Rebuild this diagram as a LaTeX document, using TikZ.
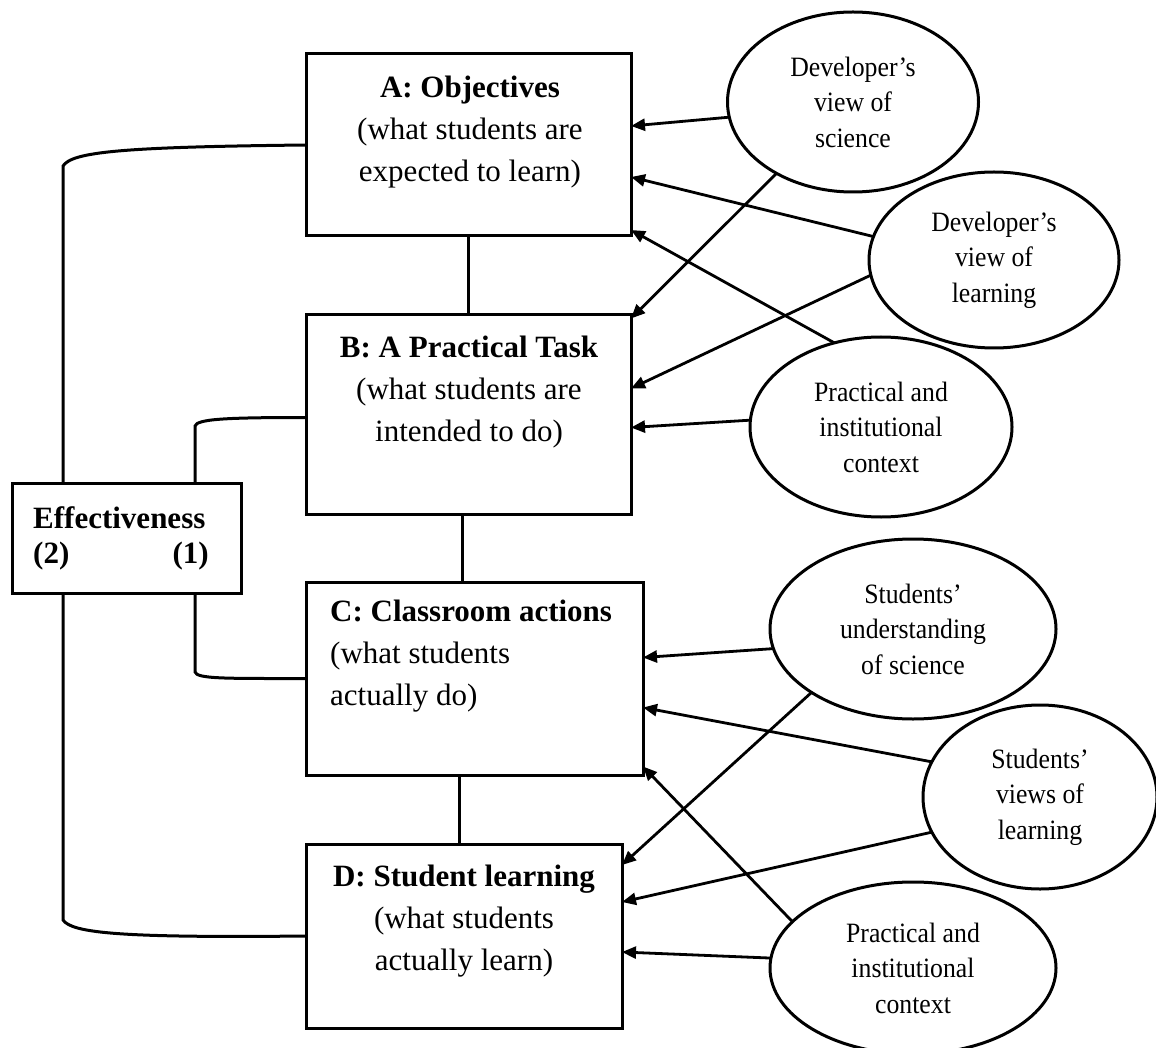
\documentclass[tikz,border=0pt]{standalone}
\usepackage{fontspec}
\setmainfont{Liberation Serif}
\newfontfamily\ovalfont{Liberation Serif}[FakeStretch=0.92]
\usetikzlibrary{arrows.meta,shapes.geometric}
\begin{document}
\begin{tikzpicture}[x=1pt,y=-1pt,
  box/.style={draw,line width=3pt,rectangle,inner sep=0pt,outer sep=0pt},
  oval/.style={draw,line width=3pt,ellipse,inner sep=0pt,outer sep=0pt,align=center,
    font=\ovalfont\fontsize{28}{35.5}\selectfont},
  boxtext/.style={align=center,inner sep=0pt,font=\fontsize{31}{42}\selectfont},
  link/.style={line width=3pt},
  influence/.style={line width=2.8pt,-{Triangle[length=14pt,width=12pt]}}]

\useasboundingbox (0,0) rectangle (1156,1048);
\fill[white] (0,0) rectangle (1156,1048);

% the four stages of the task
\node[box,minimum width=325pt,minimum height=182pt] (A) at (468.5,145) {};
\node[box,minimum width=325pt,minimum height=199pt] (B) at (468.5,414.5) {};
\node[box,minimum width=337pt,minimum height=193pt] (C) at (474.5,678.5) {};
\node[box,minimum width=316pt,minimum height=184pt] (D) at (464,936) {};
\node[box,minimum width=229pt,minimum height=110pt] (E) at (126.5,538) {};

\node[boxtext] (Atext) at (470,132) {\textbf{A: Objectives}\\(what students are\\expected to learn)};
\node[boxtext] (Btext) at (469,392) {\textbf{B: A Practical Task}\\(what students are\\intended to do)};
\node[boxtext,align=left,anchor=west] (Ctext) at (330,656) {\textbf{C: Classroom actions}\\(what students\\actually do)};
\node[boxtext] (Dtext) at (464,921) {\textbf{D: Student learning}\\(what students\\actually learn)};

\node[boxtext,anchor=west] (eff) at (33,518) {\textbf{Effectiveness}};
\node[boxtext,anchor=west] (two) at (33,556) {\textbf{(2)}};
\node[boxtext,anchor=east] (one) at (209,556) {\textbf{(1)}};

% influences
\node[oval,minimum width=251pt,minimum height=180pt] (e1) at (853,102) {Developer’s\\view of\\science};
\node[oval,minimum width=250pt,minimum height=176pt] (e2) at (994,260) {Developer’s\\view of\\learning};
\node[oval,minimum width=262pt,minimum height=180pt] (e3) at (881,427) {Practical and\\institutional\\context};
\node[oval,minimum width=286pt,minimum height=180pt] (e4) at (913,629) {Students’\\understanding\\of science};
\node[oval,minimum width=234pt,minimum height=184pt] (e5) at (1040,797) {Students’\\views of\\learning};
\node[oval,minimum width=286pt,minimum height=172pt] (e6) at (913,968) {Practical and\\institutional\\context};

% chain of stages
\draw[link] (A.south) -- (B.north);
\draw[link] ([xshift=-6pt]B.south) -- ([xshift=-6pt]B.south |- C.north);
\draw[link] ([xshift=-5pt]D.north) -- ([xshift=-5pt]D.north |- C.south);

% effectiveness brackets
\draw[link] ([xshift=51pt]E.north west) -- ++(0,-317) .. controls +(9,-14) and +(-186,2) .. (A.west);
\draw[link] ([xshift=51pt]E.south west) -- ++(0,327) .. controls +(9,13) and +(-186,2) .. (D.west);
\draw[link] ([xshift=183pt]E.north west) -- ++(0,-57) .. controls +(2,-7) and +(-80,0) .. ([yshift=-3pt]B.west);
\draw[link] ([xshift=183pt]E.south west) -- ++(0,79) .. controls +(2,7) and +(-80,0) .. (C.west);

% arrows from the influences
\draw[influence] (e1.187) -- ([yshift=19pt]A.east);
\draw[influence] (e1.223) -- ([yshift=96pt]B.east);
\draw[influence] (e2.169) -- ([yshift=-32pt]A.east);
\draw[influence] (e2.187) -- ([yshift=26pt]B.east);
\draw[influence] (e3.119) -- ([yshift=-85pt]A.east);
\draw[influence] (e3.177) -- ([yshift=-13pt]B.east);
\draw[influence] (e4.188) -- ([yshift=21pt]C.east);
\draw[influence] (e4.212) -- ([yshift=71pt]D.east);
\draw[influence] (e5.162) -- ([yshift=-29pt]C.east);
\draw[influence] (e5.198) -- ([yshift=34pt]D.east);
\draw[influence] (e6.159) -- ([yshift=-88pt]C.east);
\draw[influence] (e6.176) -- ([yshift=-16pt]D.east);
\end{tikzpicture}
\end{document}
